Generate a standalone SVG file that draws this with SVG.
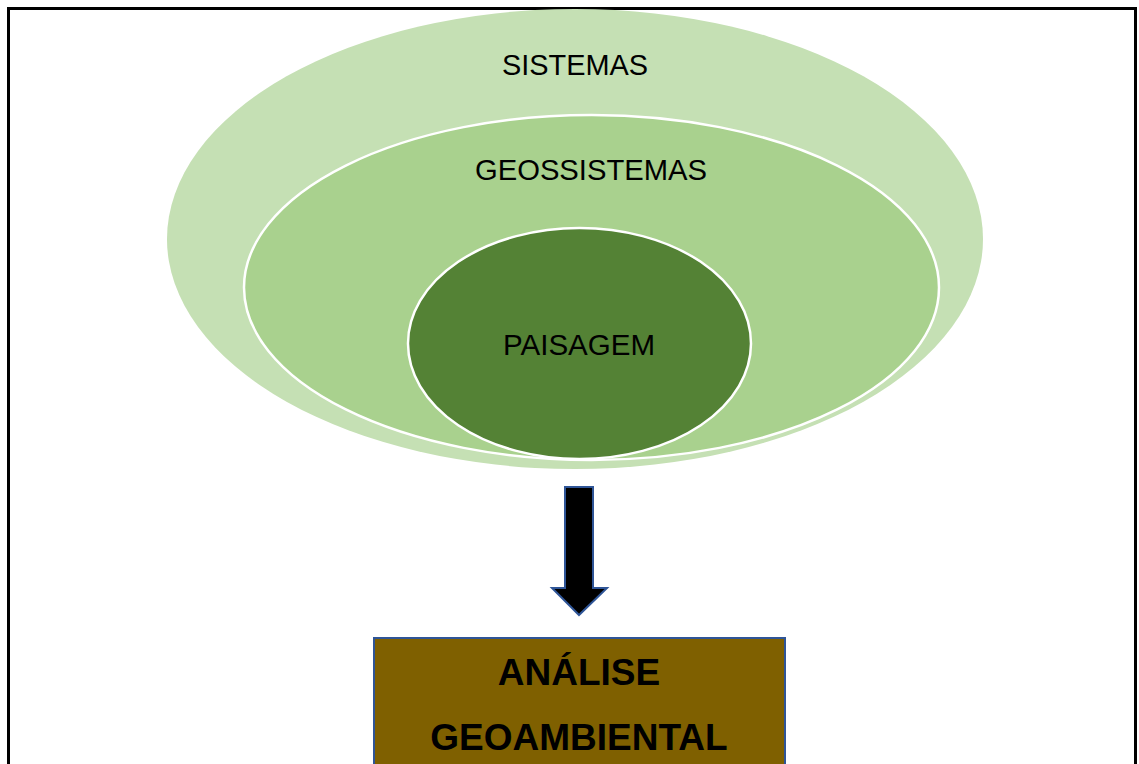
<svg xmlns="http://www.w3.org/2000/svg" width="1139" height="764" viewBox="0 0 1139 764">
  <style>
    .label { font-family: "Liberation Sans", Arial, sans-serif; font-size: 30px; fill: #000; text-anchor: middle; }
    .title { font-family: "Liberation Sans", Arial, sans-serif; font-size: 37px; font-weight: bold; fill: #000; text-anchor: middle; }
    .ring { stroke: #ffffff; stroke-width: 2.5; }
  </style>
  <rect width="1139" height="764" fill="#ffffff"/>
  <!-- page frame -->
  <rect x="8.5" y="8.5" width="1127" height="800" fill="none" stroke="#000" stroke-width="3"/>

  <g id="sistemas">
    <ellipse cx="575" cy="239" rx="408" ry="230" fill="#C5E0B4"/>
    <text class="label" x="575" y="75" textLength="146" lengthAdjust="spacingAndGlyphs">SISTEMAS</text>
  </g>
  <g id="geossistemas">
    <ellipse class="ring" cx="591.5" cy="287.5" rx="347.5" ry="172.5" fill="#A9D18E"/>
    <text class="label" x="591" y="180" textLength="232" lengthAdjust="spacingAndGlyphs">GEOSSISTEMAS</text>
  </g>
  <g id="paisagem">
    <ellipse class="ring" cx="579.5" cy="343.5" rx="171.5" ry="115.5" fill="#548235"/>
    <text class="label" x="579" y="355" textLength="152" lengthAdjust="spacingAndGlyphs">PAISAGEM</text>
  </g>

  <g id="connectors">
    <path d="M565,487 H593 V588 H607 L579,615 L552,588 H565 Z" fill="#000" stroke="#2F5597" stroke-width="2" stroke-linejoin="miter"/>
  </g>

  <g id="analise">
    <rect x="374" y="638" width="411" height="140" fill="#7F6000" stroke="#2F5597" stroke-width="2"/>
    <text class="title" x="579" y="685">ANÁLISE</text>
    <text class="title" x="579" y="750">GEOAMBIENTAL</text>
  </g>
</svg>
